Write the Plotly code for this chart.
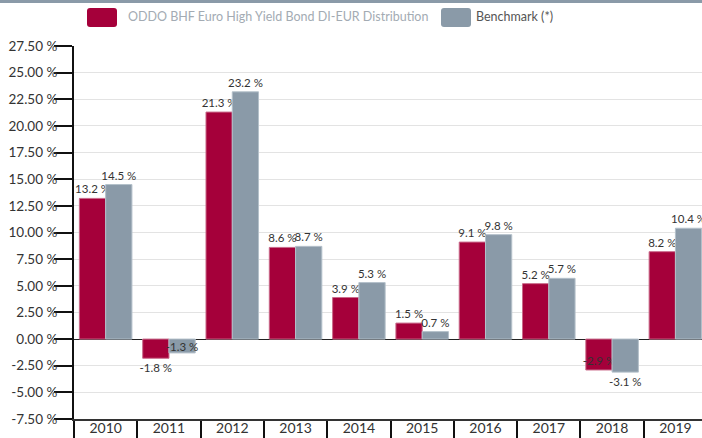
import plotly.graph_objects as go

years = ["2010", "2011", "2012", "2013", "2014", "2015", "2016", "2017", "2018", "2019"]
fund_name = "ODDO BHF Euro High Yield Bond DI-EUR Distribution"
bench_name = "Benchmark (*)"
fund = [13.2, -1.8, 21.3, 8.6, 3.9, 1.5, 9.1, 5.2, -2.9, 8.2]
bench = [14.5, -1.3, 23.2, 8.7, 5.3, 0.7, 9.8, 5.7, -3.1, 10.4]
y_ticks = [-7.5, -5, -2.5, 0, 2.5, 5, 7.5, 10, 12.5, 15, 17.5, 20, 22.5, 25, 27.5]

W, H = 702, 438
L, R, T, B = 74, 0, 46, 19
PW, PH = W - L - R, H - T - B

FUND_C = "#a5003a"
BENCH_C = "#8a9aa8"
FONT = "Lato"


def px(x):
    return (x - L) / PW


def py(y):
    return (H - B - y) / PH


def fmt(v):
    return f"{v:.1f} %"


fund_pos = ["outside"] * len(fund)
fund_pos[8] = "inside"
bench_pos = ["outside"] * len(bench)
bench_pos[1] = "inside"

fig = go.Figure()
fig.add_trace(go.Bar(
    x=years, y=fund, name=fund_name,
    marker=dict(color=FUND_C, line=dict(color="#c96a8a", width=1)),
    text=[fmt(v) for v in fund], textposition=fund_pos, constraintext="none",
    insidetextanchor="end", textangle=0,
    textfont=dict(family=FONT, size=11.5, color="#333333"), cliponaxis=False,
    hoverinfo="skip", showlegend=False,
))
fig.add_trace(go.Bar(
    x=years, y=bench, name=bench_name,
    marker=dict(color=BENCH_C, line=dict(color="#b4c0ca", width=1)),
    text=[fmt(v) for v in bench], textposition=bench_pos, constraintext="none",
    insidetextanchor="middle", textangle=0,
    textfont=dict(family=FONT, size=11.5, color="#333333"), cliponaxis=False,
    hoverinfo="skip", showlegend=False,
))


def rrect(x0, y0, x1, y1, r, color):
    X0, X1 = px(x0), px(x1)
    Y0, Y1 = py(y0), py(y1)
    rx, ry = r / PW, r / PH
    path = (f"M {X0+rx},{Y0} L {X1-rx},{Y0} Q {X1},{Y0} {X1},{Y0-ry} "
            f"L {X1},{Y1+ry} Q {X1},{Y1} {X1-rx},{Y1} L {X0+rx},{Y1} "
            f"Q {X0},{Y1} {X0},{Y1+ry} L {X0},{Y0-ry} Q {X0},{Y0} {X0+rx},{Y0} Z")
    return dict(type="path", xref="paper", yref="paper", path=path,
                fillcolor=color, line=dict(width=0), layer="above")


shapes = [
    dict(type="rect", xref="paper", yref="paper", x0=px(0), x1=px(W), y0=py(3), y1=py(0),
         fillcolor=BENCH_C, line=dict(width=0)),
    rrect(87, 8, 117, 27, 3, FUND_C),
    rrect(441, 8, 471, 27, 3, BENCH_C),
]

annotations = [
    dict(xref="paper", yref="paper", x=px(126), y=py(17), xanchor="left", yanchor="middle",
         text=fund_name, showarrow=False, font=dict(family=FONT, size=12.5, color="#a3abb3")),
    dict(xref="paper", yref="paper", x=px(474), y=py(17), xanchor="left", yanchor="middle",
         text=bench_name, showarrow=False, font=dict(family=FONT, size=12.5, color="#555555")),
]

fig.update_layout(
    width=W, height=H,
    margin=dict(l=L, r=R, t=T, b=B, pad=0),
    plot_bgcolor="white", paper_bgcolor="white",
    barmode="group", bargap=0.17, bargroupgap=0,
    font=dict(family=FONT, size=12, color="#333333"),
    shapes=shapes, annotations=annotations,
    showlegend=False,
    xaxis=dict(
        type="category", range=[-0.5, 9.42], tickson="boundaries",
        ticks="outside", ticklen=19, tickwidth=2, tickcolor="#111111",
        ticklabelstandoff=-5,
        showline=True, linecolor="#333333", linewidth=2,
        showgrid=False, tickfont=dict(family=FONT, size=14, color="#333333"),
        fixedrange=True,
    ),
    yaxis=dict(
        range=[-7.5, 27.5], tickvals=y_ticks,
        ticktext=[f"{v:.2f} %" for v in y_ticks],
        ticks="outside", ticklen=18, tickwidth=2, tickcolor="#111111",
        ticklabelstandoff=-6,
        showline=True, linecolor="#111111", linewidth=2,
        showgrid=True, gridcolor="#e3e3e3", gridwidth=1,
        zeroline=True, zerolinecolor="#222222", zerolinewidth=1,
        tickfont=dict(family=FONT, size=13.5, color="#333333"),
        fixedrange=True,
    ),
)

fig.write_html(
    "out.html",
    config={"displayModeBar": False},
    post_script="document.body.style.margin='0';document.body.style.overflow='hidden';",
)
